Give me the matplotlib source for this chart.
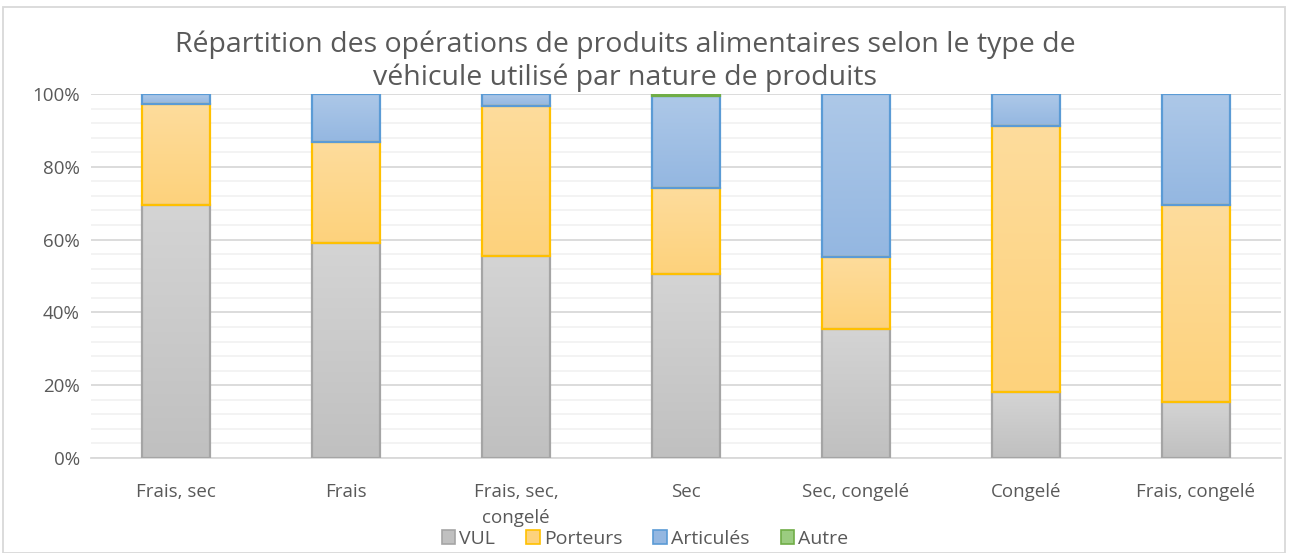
import numpy as np
import matplotlib
matplotlib.use('Agg')
import matplotlib.pyplot as plt
from matplotlib.colors import LinearSegmentedColormap
from matplotlib.patches import Rectangle

categories = ['Frais, sec', 'Frais', 'Frais, sec,\ncongelé', 'Sec',
              'Sec, congelé', 'Congelé', 'Frais, congelé']
vul = [69.5, 59.0, 55.5, 50.5, 35.5, 18.0, 15.5]
porteurs = [27.8, 27.8, 41.2, 23.8, 19.8, 73.3, 54.0]
articules = [2.7, 13.2, 3.3, 25.2, 44.7, 8.7, 30.5]
autre = [0.0, 0.0, 0.0, 0.5, 0.0, 0.0, 0.0]
series_names = ['VUL', 'Porteurs', 'Articulés', 'Autre']
yticks = [0, 20, 40, 60, 80, 100]

# (top colour, bottom colour, edge colour)
styles = [('#d4d4d4', '#c0c0c0', '#a5a5a5'),
          ('#fedc9c', '#fdd27c', '#ffc000'),
          ('#adc8e8', '#94b7e1', '#5b9bd5'),
          ('#b4d99c', '#9bcc80', '#70ad47')]

plt.rcParams['font.family'] = ['Open Sans', 'DejaVu Sans']
fig = plt.figure(figsize=(12.9, 5.53), dpi=100)
ax = fig.add_axes([91/1290, 1 - 458/553, 1190/1290, 364/553])

x = np.arange(len(categories))
width = 0.4
bottom = np.zeros(len(categories))
for vals, (c_top, c_bot, c_edge) in zip([vul, porteurs, articules, autre], styles):
    vals = np.array(vals)
    cmap = LinearSegmentedColormap.from_list('g', [c_bot, c_top])
    grad = np.linspace(0, 1, 64).reshape(-1, 1)
    keep = vals > 0
    for i in x[keep]:
        ax.imshow(grad, cmap=cmap, origin='lower', aspect='auto',
                  extent=(x[i] - width/2, x[i] + width/2, bottom[i], bottom[i] + vals[i]),
                  zorder=2, interpolation='bilinear')
    ax.bar(x[keep], vals[keep], width, bottom=bottom[keep], fill=False,
           edgecolor=c_edge, linewidth=1.6, zorder=3)
    bottom += vals

ax.set_xlim(-0.5, len(categories) - 0.5)
ax.set_ylim(0, 100)
ax.set_yticks(yticks)
ax.set_yticklabels([f'{t}%' for t in yticks])
ax.set_yticks(np.arange(0, 101, 4), minor=True)
ax.set_xticks(x)
ax.set_xticklabels(categories)
ax.grid(axis='y', which='major', color='#d9d9d9', linewidth=1.3, zorder=0)
ax.grid(axis='y', which='minor', color='#f2f2f2', linewidth=1.3, zorder=0)
ax.set_axisbelow(True)
for s in ['top', 'right', 'left']:
    ax.spines[s].set_visible(False)
ax.spines['bottom'].set_color('#d9d9d9')
ax.spines['bottom'].set_linewidth(1.3)
ax.tick_params(axis='both', which='both', length=0, colors='#595959', labelsize=13.5)
ax.tick_params(axis='x', pad=18)
ax.tick_params(axis='y', pad=8)
for lbl in ax.get_xticklabels():
    lbl.set_linespacing(1.55)

fig.text(625/1290, 1 - 61/553, 'Répartition des opérations de produits alimentaires selon le type de\nvéhicule utilisé par nature de produits',
         ha='center', va='center', fontsize=20.5, color='#595959', linespacing=1.2)

handles = [Rectangle((0, 0), 1, 1, facecolor=s[1], edgecolor=s[2], linewidth=1.2) for s in styles]
fig.legend(handles, series_names, loc='center', bbox_to_anchor=(0.5, 1 - 539/553),
           ncol=4, frameon=False, fontsize=14, handlelength=0.7, handleheight=0.7,
           handletextpad=0.2, columnspacing=1.6, labelcolor='#595959',
           borderpad=0)

fig.patches.append(Rectangle((3/1290, 0), 1282/1290, 1 - 7/553, transform=fig.transFigure,
                             fill=False, edgecolor='#d9d9d9', linewidth=1.3))

fig.savefig('out.png', dpi=100)
